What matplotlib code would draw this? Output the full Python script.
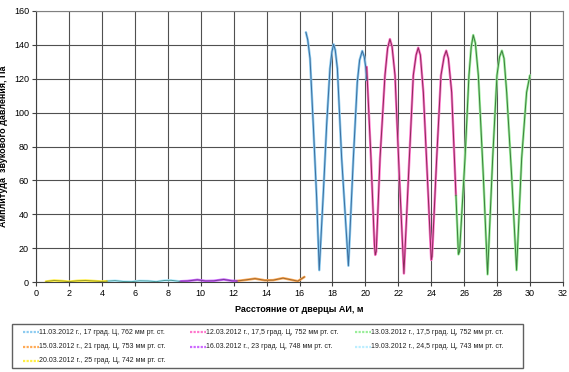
import matplotlib
matplotlib.use("Agg")
import matplotlib.pyplot as plt
from matplotlib.lines import Line2D
from matplotlib.patches import Rectangle

plt.rcParams['font.family'] = ['Liberation Sans', 'DejaVu Sans']

# 11.03 (blue)
x_1103 = [16.39, 16.5, 16.64, 16.84, 17.04, 17.2, 17.45, 17.65, 17.85, 17.97, 18.07, 18.17,
          18.3, 18.56, 18.97, 19.27, 19.51, 19.65, 19.81, 19.93, 20.02, 20.08]
y_1103 = [147.4, 143, 132, 92, 50, 7, 53, 93, 126, 136, 140.3, 137,
          126, 73, 9.6, 73, 118, 131, 136.4, 133, 127, 119]
# 12.03 (pink)
x_1203 = [20.08, 20.34, 20.55, 20.6, 20.66, 20.89, 21.19, 21.35, 21.49, 21.62, 21.8, 22.06,
          22.34, 22.67, 22.91, 23.08, 23.21, 23.34, 23.52, 23.76, 24.0, 24.05, 24.33, 24.59,
          24.78, 24.91, 25.04, 25.24, 25.5]
y_1203 = [127, 73, 22, 16, 18, 73, 122, 138, 143.4, 139, 122, 63,
          5, 73, 122, 134, 138.3, 134, 112, 63, 13, 15, 73, 122,
          133, 136.6, 132, 112, 51]
# 13.03 (green)
x_1303 = [25.5, 25.65, 25.72, 26.05, 26.29, 26.43, 26.55, 26.68, 26.86, 27.16, 27.42,
          27.73, 27.99, 28.15, 28.29, 28.42, 28.58, 28.88, 29.18, 29.49, 29.79, 29.99]
y_1303 = [51, 16.3, 18, 73, 122, 139, 145.8, 141, 122, 63, 4.5,
          73, 122, 133, 136.6, 132, 112, 63, 7, 73, 112, 122]
# 15.03 (orange)
x_1503 = [12.2, 12.7, 13.3, 13.9, 14.4, 15.0, 15.5, 15.9, 16.3]
y_1503 = [0.6, 1.2, 2.0, 1.0, 1.1, 2.3, 1.3, 0.5, 3.0]
# 16.03 (purple)
x_1603 = [8.7, 9.2, 9.8, 10.3, 10.8, 11.4, 11.9, 12.2]
y_1603 = [0.4, 0.6, 1.3, 0.6, 0.7, 1.5, 0.7, 0.6]
# 19.03 (light cyan)
x_1903 = [4.3, 4.8, 5.3, 5.8, 6.3, 6.8, 7.3, 7.8, 8.2, 8.7]
y_1903 = [0.5, 0.8, 0.3, 0.2, 0.7, 0.6, 0.2, 0.9, 1.0, 0.4]
# 20.03 (yellow)
x_2003 = [0.6, 1.1, 1.6, 2.0, 2.5, 3.0, 3.5, 4.0, 4.3]
y_2003 = [0.3, 0.9, 0.6, 0.2, 0.7, 0.9, 0.6, 0.3, 0.5]

labels = [
    "11.03.2012 г., 17 град. Ц, 762 мм рт. ст.",
    "12.03.2012 г., 17,5 град. Ц, 752 мм рт. ст.",
    "13.03.2012 г., 17,5 град. Ц, 752 мм рт. ст.",
    "15.03.2012 г., 21 град. Ц, 753 мм рт. ст.",
    "16.03.2012 г., 23 град. Ц, 748 мм рт. ст.",
    "19.03.2012 г., 24,5 град. Ц, 743 мм рт. ст.",
    "20.03.2012 г., 25 град. Ц, 742 мм рт. ст.",
]
series = [(x_1103, y_1103), (x_1203, y_1203), (x_1303, y_1303), (x_1503, y_1503),
          (x_1603, y_1603), (x_1903, y_1903), (x_2003, y_2003)]
light = ['#8ccbf0', '#ff77cc', '#99ee99', '#ffaa55', '#cc66ff', '#bbeeff', '#ffee44']
dark = ['#3c6e9e', '#8a2a58', '#3d7d3d', '#a06a30', '#7a3a9a', '#4a9a9a', '#a0a020']

W, H = 569, 372
fig = plt.figure(figsize=(W / 100, H / 100), dpi=100)
ax = fig.add_axes([36 / W, 90 / H, 527 / W, 271 / H])

for (xs, ys), lc, dc in zip(series, light, dark):
    ax.plot(xs, ys, color=lc, lw=1.8, solid_capstyle='round', solid_joinstyle='round', zorder=3)
    ax.plot(xs, ys, color=dc, lw=0.7, solid_joinstyle='round', zorder=4)

ax.set_xlim(0, 32)
ax.set_ylim(0, 160)
ax.set_xticks(range(0, 33, 2))
ax.set_yticks(range(0, 161, 20))
ax.grid(True, color='#505050', lw=0.8)
ax.set_axisbelow(True)
for s in ax.spines.values():
    s.set_color('#808080')
    s.set_linewidth(0.8)
ax.spines['left'].set_color('#404040')
ax.spines['bottom'].set_color('#404040')
ax.tick_params(labelsize=6.5, length=3, width=0.8, color='#404040', pad=2)
ax.set_xlabel("Расстояние от дверцы АИ, м", fontsize=6.5, fontweight='bold', labelpad=5)
ax.set_ylabel("Амплитуда  звукового давления, Па", fontsize=6.5, fontweight='bold', labelpad=4)

# legend drawn as a box with three fixed-width columns (Excel style)
fig.add_artist(Rectangle((12 / W, 1 - 368 / H), 511 / W, 44 / H, transform=fig.transFigure,
                         fill=False, edgecolor='#606060', lw=1.0))
col_x = [23, 190, 355]
row_y = [332, 347, 361]
for k in range(len(labels)):
    cx, ry = col_x[k % 3], row_y[k // 3]
    fig.add_artist(Line2D([cx / W, (cx + 16) / W], [1 - ry / H, 1 - ry / H],
                          transform=fig.transFigure, color=light[k], lw=1.6, ls=(0, (1, 0.6))))
    fig.text((cx + 16) / W, 1 - ry / H, labels[k], fontsize=5.05, va='center', ha='left',
             color='#202020')

fig.savefig("out.png", dpi=100)
